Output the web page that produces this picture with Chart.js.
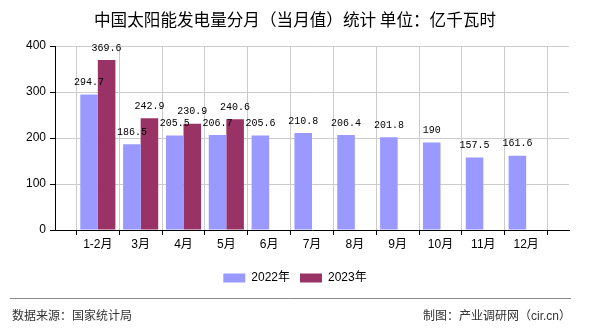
<!DOCTYPE html>
<html>
<head>
<meta charset="utf-8">
<script src="https://cdn.jsdelivr.net/npm/chart.js@4/dist/chart.umd.min.js"></script>
<style>
  html, body { margin: 0; padding: 0; background: #fff; }
  #wrap { position: relative; width: 590px; height: 330px; }
</style>
</head>
<body>
<div id="wrap"><canvas id="solarChart" width="590" height="330"></canvas></div>
<script>
// data
const months = ['1-2月', '3月', '4月', '5月', '6月', '7月', '8月', '9月', '10月', '11月', '12月'];
const values2022 = [294.7, 186.5, 205.5, 206.7, 205.6, 210.8, 206.4, 201.8, 190, 157.5, 161.6];
const values2023 = [369.6, 242.9, 230.9, 240.6];
const yTicks = [0, 100, 200, 300, 400];

const CJK = '"Liberation Sans", "Noto Sans CJK SC", sans-serif';

// blank slot at each end so the months sit on the grid lines
const labels = ['', ...months, ''];
const pad = arr => [null, ...arr, ...Array(labels.length - 1 - arr.length).fill(null)];

// value labels above each bar
const barLabels = {
  id: 'barLabels',
  afterDatasetsDraw(chart) {
    const ctx = chart.ctx;
    ctx.save();
    ctx.font = '10px "Liberation Mono", "DejaVu Sans Mono", monospace';
    ctx.fillStyle = '#000';
    ctx.textAlign = 'center';
    ctx.textBaseline = 'middle';
    chart.data.datasets.forEach((ds, i) => {
      chart.getDatasetMeta(i).data.forEach((bar, j) => {
        const v = ds.data[j];
        if (v == null) return;
        ctx.fillText(String(v), bar.x, bar.y - 12);
      });
    });
    ctx.restore();
  }
};

// source line and separator at the bottom
const footer = {
  id: 'footer',
  afterDraw(chart) {
    const ctx = chart.ctx;
    ctx.save();
    ctx.strokeStyle = '#888';
    ctx.lineWidth = 1;
    ctx.beginPath();
    ctx.moveTo(10, 298.5);
    ctx.lineTo(571, 298.5);
    ctx.stroke();
    ctx.font = '12px ' + CJK;
    ctx.fillStyle = '#333';
    ctx.textBaseline = 'middle';
    ctx.textAlign = 'left';
    ctx.fillText('数据来源：国家统计局', 12, 317);
    ctx.textAlign = 'right';
    ctx.fillText('制图：产业调研网（cir.cn）', 571, 317);
    ctx.restore();
  }
};

new Chart(document.getElementById('solarChart'), {
  type: 'bar',
  data: {
    labels: labels,
    datasets: [
      {
        label: '2022年',
        data: pad(values2022),
        backgroundColor: '#9999FF',
        categoryPercentage: 0.82,
        barPercentage: 1
      },
      {
        label: '2023年',
        data: pad(values2023),
        backgroundColor: '#993366',
        categoryPercentage: 0.82,
        barPercentage: 1
      }
    ]
  },
  options: {
    responsive: false,
    animation: false,
    layout: { padding: { left: 0, right: 0, top: 0, bottom: 36 } },
    plugins: {
      title: {
        display: true,
        text: '中国太阳能发电量分月（当月值）统计 单位：亿千瓦时',
        color: '#000',
        font: { size: 16.6, weight: 'normal', family: '"Noto Sans CJK SC", sans-serif' },
        padding: { top: 10, bottom: 16.1 }
      },
      legend: {
        position: 'bottom',
        labels: {
          color: '#000',
          font: { size: 12, family: CJK },
          boxWidth: 22,
          boxHeight: 9,
          padding: 10
        }
      },
      tooltip: { enabled: false }
    },
    scales: {
      x: {
        offset: false,
        grid: { color: '#ccc', tickColor: '#000', tickLength: 5 },
        border: { color: '#000' },
        ticks: {
          color: '#000',
          font: { size: 12, family: CJK },
          padding: 2,
          maxRotation: 0,
          autoSkip: false
        },
        afterFit(scale) {
          scale.height = 32;
          // keep the plot's right edge at x=569 while title/legend use the full width
          scale.paddingRight = 21;
        }
      },
      y: {
        min: yTicks[0],
        max: yTicks[yTicks.length - 1],
        grid: { color: '#ccc', tickColor: '#000', tickLength: 5 },
        border: { color: '#000' },
        ticks: {
          stepSize: yTicks[1] - yTicks[0],
          color: '#000',
          font: { size: 12, family: CJK },
          padding: 4
        },
        afterFit(scale) { scale.width = 55; }
      }
    }
  },
  plugins: [barLabels, footer]
});
</script>
</body>
</html>
